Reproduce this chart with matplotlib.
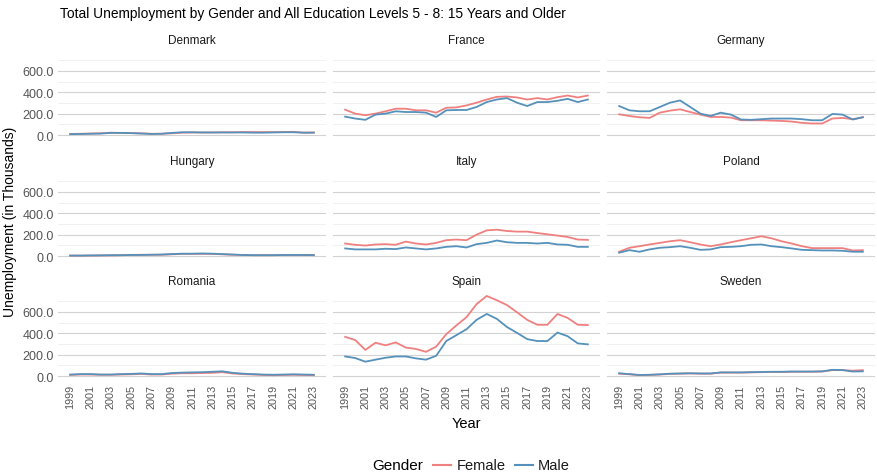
import matplotlib.pyplot as plt
from matplotlib.lines import Line2D

plt.rcParams['font.family'] = ['Liberation Sans', 'DejaVu Sans']

years = list(range(1999, 2024))
countries = ["Denmark", "France", "Germany",
             "Hungary", "Italy", "Poland",
             "Romania", "Spain", "Sweden"]

# Arbeitslose in Tausend
female = {
    "Denmark": [10, 12, 14, 16, 22, 20, 18, 16, 12, 12, 16, 22, 24, 24, 24, 26, 26, 28, 28, 28, 28, 28, 30, 22, 24],
    "France": [237, 200, 185, 200, 222, 246, 246, 231, 231, 209, 255, 258, 277, 302, 332, 357, 360, 351, 332, 345, 332, 354, 369, 351, 369],
    "Germany": [194, 178, 166, 160, 209, 228, 240, 215, 191, 169, 169, 163, 138, 138, 138, 135, 132, 126, 114, 108, 108, 154, 160, 148, 166],
    "Hungary": [4, 4, 4, 6, 6, 8, 10, 12, 12, 12, 16, 20, 20, 20, 20, 16, 12, 10, 8, 8, 8, 10, 10, 10, 10],
    "Italy": [117, 105, 98, 108, 111, 105, 135, 117, 108, 123, 148, 154, 148, 200, 240, 246, 234, 228, 228, 215, 203, 191, 178, 154, 151],
    "Poland": [40, 77, 92, 108, 123, 138, 148, 129, 108, 92, 108, 129, 148, 166, 185, 166, 138, 117, 92, 74, 74, 74, 74, 52, 55],
    "Romania": [10, 14, 14, 12, 12, 14, 16, 20, 14, 14, 22, 26, 26, 28, 30, 36, 24, 18, 14, 10, 8, 10, 12, 10, 8],
    "Spain": [366, 336, 244, 311, 287, 314, 266, 253, 226, 275, 391, 473, 550, 672, 748, 708, 663, 595, 525, 479, 479, 580, 543, 479, 476],
    "Sweden": [22, 16, 8, 10, 14, 20, 22, 24, 22, 22, 32, 32, 32, 34, 36, 38, 38, 40, 40, 40, 42, 55, 55, 50, 55],
}
male = {
    "Denmark": [8, 10, 12, 14, 20, 20, 18, 14, 10, 12, 20, 26, 26, 24, 24, 24, 24, 24, 22, 22, 24, 26, 26, 22, 22],
    "France": [172, 154, 142, 191, 200, 222, 215, 215, 209, 169, 231, 234, 234, 262, 308, 332, 345, 302, 271, 308, 308, 320, 338, 308, 332],
    "Germany": [271, 231, 222, 222, 262, 302, 323, 262, 200, 178, 209, 191, 145, 142, 148, 154, 154, 154, 148, 138, 138, 197, 191, 145, 166],
    "Hungary": [4, 4, 6, 6, 8, 8, 10, 10, 12, 14, 18, 22, 22, 24, 22, 18, 14, 10, 8, 8, 8, 10, 10, 10, 8],
    "Italy": [71, 62, 62, 62, 68, 65, 80, 71, 62, 71, 86, 92, 80, 111, 123, 145, 129, 123, 123, 117, 123, 108, 105, 86, 86],
    "Poland": [31, 55, 40, 62, 77, 83, 92, 77, 58, 62, 83, 86, 92, 105, 108, 92, 83, 71, 58, 55, 52, 52, 49, 40, 40],
    "Romania": [14, 18, 18, 14, 14, 18, 20, 24, 18, 18, 28, 32, 34, 36, 40, 44, 30, 22, 18, 14, 12, 14, 16, 14, 12],
    "Spain": [183, 168, 134, 153, 171, 183, 183, 165, 153, 189, 327, 382, 437, 525, 580, 534, 458, 403, 345, 327, 327, 406, 372, 305, 296],
    "Sweden": [26, 18, 10, 12, 16, 22, 24, 26, 24, 24, 34, 34, 34, 36, 38, 40, 40, 42, 42, 42, 44, 58, 56, 42, 44],
}

farbe_f = "#F08080"
farbe_m = "#5591BA"

W, H = 877, 477
fig = plt.figure(figsize=(W / 100, H / 100), dpi=100)

spalten = [(58, 326), (333, 600), (607, 875)]
zeilen = [(52, 140), (173, 261), (293, 381)]

for i, land in enumerate(countries):
    r, c = divmod(i, 3)
    x0, x1 = spalten[c]
    y0, y1 = zeilen[r]
    ax = fig.add_axes([x0 / W, 1 - y1 / H, (x1 - x0) / W, (y1 - y0) / H])
    ax.plot(years, female[land], color=farbe_f, lw=1.3)
    ax.plot(years, male[land], color=farbe_m, lw=1.3)
    ax.set_xlim(1997.8, 2024.2)
    ax.set_ylim(-37, 785)
    ax.set_yticks([0, 200, 400, 600])
    ax.set_yticks([100, 300, 500, 700], minor=True)
    ax.set_xticks(years[::2])
    ax.grid(axis="y", which="major", color="#d2d2d2", lw=0.8)
    ax.grid(axis="y", which="minor", color="#ececec", lw=0.5)
    ax.set_axisbelow(True)
    for s in ax.spines.values():
        s.set_visible(False)
    ax.tick_params(length=0, labelcolor="#555555", pad=3)
    ax.tick_params(axis="y", labelsize=9)
    ax.tick_params(axis="x", labelsize=7.8)
    ax.tick_params(which="minor", length=0)
    if c == 0:
        ax.set_yticklabels(["0.0", "200.0", "400.0", "600.0"])
    else:
        ax.set_yticklabels([])
    if r == 2:
        ax.set_xticklabels([str(y) for y in years[::2]], rotation=90)
    else:
        ax.set_xticklabels([])
    ax.set_title(land, fontsize=8.5, color="#1a1a1a", pad=6)

fig.text(60 / W, 1 - 14 / H, "Total Unemployment by Gender and All Education Levels 5 - 8: 15 Years and Older",
         fontsize=9.9, va="center", ha="left")
fig.text(10 / W, 1 - 222 / H, "Unemployment (in Thousands)", rotation=90, fontsize=10, va="center", ha="center")
fig.text(466 / W, 1 - 424 / H, "Year", fontsize=10.5, va="center", ha="center")

# Legende von Hand, Titel links von den Einträgen
ly = 1 - 466 / H
fig.text(372 / W, ly, "Gender", fontsize=11, va="center", ha="left")
fig.add_artist(Line2D([433 / W, 451 / W], [ly, ly], color=farbe_f, lw=1.5, transform=fig.transFigure))
fig.text(457 / W, ly, "Female", fontsize=10.5, va="center", ha="left", color="#1a1a1a")
fig.add_artist(Line2D([515 / W, 533 / W], [ly, ly], color=farbe_m, lw=1.5, transform=fig.transFigure))
fig.text(538 / W, ly, "Male", fontsize=10.5, va="center", ha="left", color="#1a1a1a")

fig.savefig("out.png", dpi=100)
